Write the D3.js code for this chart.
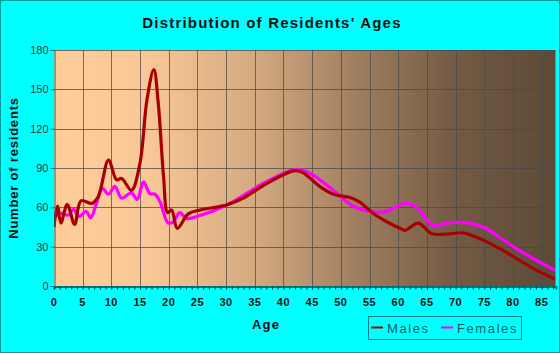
<!DOCTYPE html>
<html>
<head>
<meta charset="utf-8">
<script src="https://cdn.jsdelivr.net/npm/d3@7"></script>
<style>
  body { margin: 0; background: #00ffff; }
  svg { display: block; font-family: "Liberation Sans", Arial, sans-serif; }
</style>
</head>
<body>
<div id="chart"></div>
<script>
const maleAges   = [0, 0.6, 1.2, 2.3, 3.6, 4.7, 6.6, 7.7, 9.5, 10.9, 11.8, 13.5, 15, 16.2, 17.4, 18.2, 19.1, 19.8, 20.5, 21.5, 23.4, 25.5, 30.2, 33, 37, 42, 43.4, 46.3, 48.7, 51.6, 53.3, 55.6, 58, 60.3, 61.2, 63.5, 65.8, 68.4, 71.3, 74.8, 77.7, 80.6, 83.5, 87.5];
const maleValues = [45, 61, 48, 62, 47, 65, 63, 68, 96, 81, 82, 73, 94, 142, 165, 138, 83, 56, 58, 44, 55, 58, 62, 67, 78, 88, 86.5, 76, 70, 67.5, 64, 55.5, 49, 44, 42.5, 48, 40, 39.5, 40.5, 35, 28.5, 21, 13.5, 5];
const femaleAges   = [0, 1, 2.5, 3.4, 4.4, 5.6, 6.4, 7.4, 8.4, 9.5, 10.6, 11.8, 13.5, 14.5, 15.6, 16.7, 17.6, 18.5, 19.9, 20.8, 21.9, 23.1, 24.9, 30.2, 37, 42.3, 44.6, 48.7, 52.1, 55.6, 57.7, 61.2, 63.2, 66.1, 68.4, 71.3, 74.8, 77.7, 80.6, 83.5, 87.5];
const femaleValues = [52, 55.5, 54, 58.5, 53, 57, 52, 63, 74.5, 70, 76, 67, 71, 66, 79.5, 70.5, 70, 64, 48, 49, 56, 51.5, 53, 62, 79.5, 89, 86, 73, 61, 56.5, 56.5, 63, 60, 46, 48, 48.5, 45, 37, 28.5, 21, 11.5];
const xTicks = d3.range(0, 90, 5);
const yTicks = [0, 30, 60, 90, 120, 150, 180];
const seriesNames = ["Males", "Females"];
const seriesColors = ["#a80000", "#ff00ff"];

const width = 560, height = 353;
const plotLeft = 54, plotRight = 556, plotTop = 50, plotBottom = 286;

const svg = d3.select("#chart").append("svg")
    .attr("width", width)
    .attr("height", height);

svg.append("rect")
    .attr("x", 0.5).attr("y", 0.5)
    .attr("width", width - 1).attr("height", height - 1)
    .attr("fill", "#00ffff")
    .attr("stroke", "#009999");

const x = d3.scaleLinear().domain([0, 87.5]).range([plotLeft, plotRight]);
const y = d3.scaleLinear().domain([0, 180]).range([plotBottom, plotTop]);

const defs = svg.append("defs");

// plot background gradient
const grad = defs.append("linearGradient")
    .attr("id", "bg").attr("x1", "0").attr("x2", "1").attr("y1", "0").attr("y2", "0");
[["0%", "#ffcc99"], ["18%", "#fac897"], ["40%", "#d4aa80"], ["60%", "#a07f60"], ["80%", "#735a44"], ["100%", "#5c4a37"]]
    .forEach(([o, c]) => grad.append("stop").attr("offset", o).attr("stop-color", c));

defs.append("clipPath").attr("id", "clip")
    .append("rect").attr("x", plotLeft).attr("y", plotTop - 5)
    .attr("width", plotRight - plotLeft).attr("height", plotBottom - plotTop + 5);

svg.append("rect")
    .attr("x", plotLeft).attr("y", plotTop)
    .attr("width", plotRight - plotLeft).attr("height", plotBottom - plotTop)
    .attr("fill", "url(#bg)");

// grid
svg.append("g").selectAll("line")
    .data(yTicks.filter(d => d > 0))
    .enter().append("line")
    .attr("x1", plotLeft).attr("x2", plotRight)
    .attr("y1", d => Math.round(y(d)) + 0.5).attr("y2", d => Math.round(y(d)) + 0.5)
    .attr("stroke", "#4a4a4a").attr("stroke-opacity", 0.75);

svg.append("g").selectAll("line")
    .data(xTicks.filter(d => d > 0))
    .enter().append("line")
    .attr("x1", d => Math.round(x(d)) + 0.5).attr("x2", d => Math.round(x(d)) + 0.5)
    .attr("y1", plotTop).attr("y2", plotBottom)
    .attr("stroke", "#4a4a4a").attr("stroke-opacity", 0.75);

// lines
const line = d3.line()
    .x(d => x(d[0]))
    .y(d => y(d[1]))
    .curve(d3.curveCatmullRom.alpha(0.5));

const series = [
    d3.zip(maleAges, maleValues),
    d3.zip(femaleAges, femaleValues)
];

[1, 0].forEach(i => {
    svg.append("path")
        .datum(series[i])
        .attr("d", line)
        .attr("fill", "none")
        .attr("stroke", seriesColors[i])
        .attr("stroke-width", 3.2)
        .attr("stroke-linejoin", "round")
        .attr("clip-path", "url(#clip)");
});

// axes
const yAxis = svg.append("g")
    .attr("transform", `translate(${plotLeft + 0.5},0)`)
    .call(d3.axisLeft(y).tickValues(yTicks).tickSize(4).tickPadding(2));
yAxis.select(".domain").attr("stroke", "#007777");
yAxis.selectAll(".tick line").attr("stroke", "#007777");
yAxis.selectAll("text")
    .attr("fill", "#2a3a3a")
    .style("font-size", "11px")
    .attr("font-family", "Liberation Sans, Arial, sans-serif");

const xAxis = svg.append("g")
    .attr("transform", `translate(0,${plotBottom + 0.5})`)
    .call(d3.axisBottom(x).tickValues(d3.range(0, 88, 1)).tickSize(3).tickFormat(""));
xAxis.select(".domain").attr("stroke", "#007777").attr("stroke-width", 2);
xAxis.selectAll(".tick line").attr("stroke", "#004444");

svg.append("g").selectAll("text")
    .data(xTicks)
    .enter().append("text")
    .attr("x", d => x(d))
    .attr("y", 306)
    .attr("text-anchor", "middle")
    .attr("fill", "#111")
    .style("font-size", "11px")
    .style("font-weight", "bold")
    .style("letter-spacing", "0.5px")
    .text(d => d);

svg.append("line")
    .attr("x1", plotRight + 0.5).attr("x2", plotRight + 0.5)
    .attr("y1", plotTop).attr("y2", plotBottom)
    .attr("stroke", "#00ffff").attr("stroke-width", 2);

// titles
svg.append("text")
    .attr("x", 272).attr("y", 28)
    .attr("text-anchor", "middle")
    .style("font-size", "15px").style("font-weight", "bold")
    .style("letter-spacing", "1.2px")
    .attr("fill", "#111")
    .text("Distribution of Residents' Ages");

svg.append("text")
    .attr("transform", "translate(18,168) rotate(-90)")
    .attr("text-anchor", "middle")
    .style("font-size", "13px").style("font-weight", "bold")
    .style("letter-spacing", "0.8px")
    .attr("fill", "#111")
    .text("Number of residents");

svg.append("text")
    .attr("x", 266).attr("y", 329)
    .attr("text-anchor", "middle")
    .style("font-size", "13px").style("font-weight", "bold")
    .style("letter-spacing", "1.2px")
    .attr("fill", "#111")
    .text("Age");

// legend
const legend = svg.append("g");
legend.append("rect")
    .attr("x", 368.5).attr("y", 316.5)
    .attr("width", 153).attr("height", 23)
    .attr("fill", "none").attr("stroke", "#008080");

const legendX = [371, 441];
seriesNames.forEach((name, i) => {
    legend.append("line")
        .attr("x1", legendX[i]).attr("x2", legendX[i] + 12)
        .attr("y1", 327.5).attr("y2", 327.5)
        .attr("stroke", seriesColors[i]).attr("stroke-width", 2);
    legend.append("text")
        .attr("x", legendX[i] + 16).attr("y", 333)
        .style("font-size", "13px")
        .style("letter-spacing", "1.6px")
        .attr("fill", "#005f5f")
        .text(name);
});
</script>
</body>
</html>
